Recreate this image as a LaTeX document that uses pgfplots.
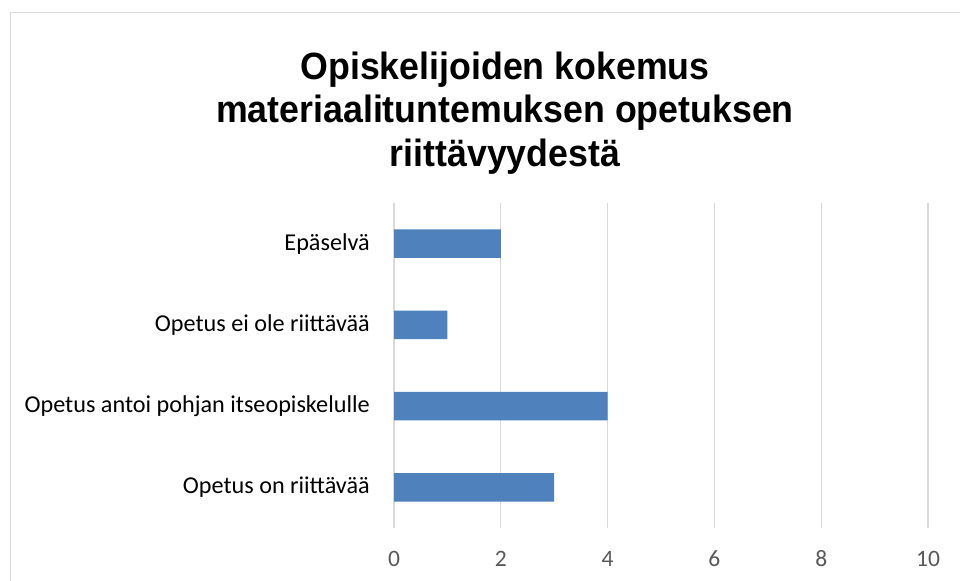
\documentclass[border=0pt]{standalone}
\usepackage{pgfplots}
\pgfplotsset{compat=1.18}
\usepackage{fontspec}
\setmainfont{Carlito}
\newfontfamily\titlefont[FakeStretch=0.94]{Liberation Sans}
\definecolor{barblue}{RGB}{79,129,189}
\definecolor{gridgray}{RGB}{217,217,217}
\definecolor{tickgray}{RGB}{89,89,89}
\begin{document}
\begin{tikzpicture}[x=1bp,y=1bp]
\useasboundingbox (0,0) rectangle (960,581);
\fill[white] (0,0) rectangle (960,581);
\begin{scope}
\clip (0,0) rectangle (960,581);
\draw[gridgray, line width=1.3bp] (10.5,-20) -- (10.5,568.5) -- (980,568.5);
\end{scope}
\node[font=\titlefont\bfseries\fontsize{38bp}{44bp}\selectfont, anchor=base, inner sep=0pt] at (505,501) {Opiskelijoiden kokemus};
\node[font=\titlefont\bfseries\fontsize{38bp}{44bp}\selectfont, anchor=base, inner sep=0pt] at (505,458) {materiaalituntemuksen opetuksen};
\node[font=\titlefont\bfseries\fontsize{38bp}{44bp}\selectfont, anchor=base, inner sep=0pt] at (505,414) {riittävyydestä};
\begin{axis}[
  at={(394bp,53bp)}, anchor=south west, scale only axis,
  width=534bp, height=325bp,
  xmin=0, xmax=10, ymin=-0.5, ymax=3.5,
  xbar, bar width=28.4bp,
  xtick={0,2,4,6,8,10}, ytick={0,1,2,3},
  yticklabels={Opetus on riittävää, Opetus antoi pohjan itseopiskelulle, Opetus ei ole riittävää, Epäselvä},
  xmajorgrids, major grid style={gridgray, line width=1.3bp},
  axis line style={draw=none}, major tick length=0pt, tick style={draw=none},
  /pgf/number format/assume math mode=true,
  xticklabel style={font=\fontsize{23.5bp}{28bp}\selectfont, text=tickgray, anchor=base, inner sep=0pt, yshift=-39bp},
  yticklabel style={font=\fontsize{24.2bp}{29bp}\selectfont, text=black, anchor=east, inner sep=0pt, xshift=-24bp},
]
\addplot[fill=barblue, draw=none] coordinates {(3,0) (4,1) (1,2) (2,3)};
\end{axis}
\end{tikzpicture}
\end{document}
